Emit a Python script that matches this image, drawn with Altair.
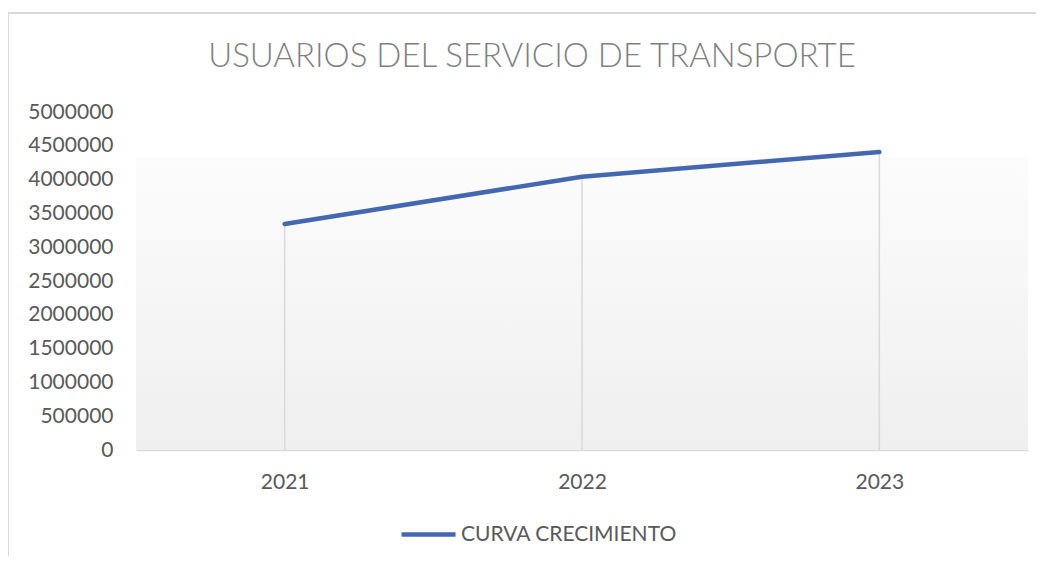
import altair as alt
import pandas as pd

years = ["2021", "2022", "2023"]
usuarios = [3343000, 4043000, 4408000]
serie = ["CURVA CRECIMIENTO"] * 3
y_ticks = [0, 500000, 1000000, 1500000, 2000000, 2500000, 3000000, 3500000, 4000000, 4500000, 5000000]

df = pd.DataFrame({"year": years, "value": usuarios, "serie": serie})

FONT = "Lato"
TXT = "#595959"
W, H = 892, 338

xenc = alt.X("year:O", title=None,
             scale=alt.Scale(type="point", padding=0.5),
             axis=alt.Axis(labelAngle=0, ticks=False, domainColor="#d9d9d9", domainWidth=1.5,
                           labelPadding=21, labelFontSize=21, labelColor=TXT, labelFont=FONT, grid=False))
yenc = alt.Y("value:Q", title=None,
             scale=alt.Scale(domain=[0, 5000000], nice=False),
             axis=alt.Axis(values=y_ticks, format="d", domain=False, ticks=False, grid=False,
                           labelPadding=23, labelFontSize=21, labelColor=TXT, labelFont=FONT))

grad = alt.LinearGradient(gradient="linear", x1=0, x2=0, y1=0, y2=1,
                          stops=[alt.GradientStop(offset=0, color="#fcfcfc"),
                                 alt.GradientStop(offset=1, color="#efefef")])

plot_bg = alt.Chart(df).mark_rect(fill=grad, strokeWidth=0).encode(
    x=alt.value(0), x2=alt.value(W), y=alt.value(45), y2=alt.value(H)
)

frame = alt.Chart(df).mark_rect(fill="transparent", stroke="#d9d9d9", strokeWidth=1.5, clip=False).encode(
    x=alt.value(-128), x2=alt.value(1000), y=alt.value(-99), y2=alt.value(600)
)

drops = alt.Chart(df).mark_rule(color="#d9d9d9", strokeWidth=1.5).encode(
    x=xenc, y=yenc, y2=alt.datum(0)
)

line = alt.Chart(df).mark_line(strokeWidth=4.5, strokeCap="round", color="#4468B0").encode(
    x=xenc, y=yenc,
    color=alt.Color("serie:N", title=None,
                    scale=alt.Scale(range=["#4468B0"]),
                    legend=alt.Legend(orient="none", legendX=263, legendY=393, symbolType="stroke",
                                      symbolSize=2916, symbolStrokeWidth=4.5, labelFontSize=21,
                                      labelColor=TXT, labelFont=FONT, padding=0, labelOffset=3,
                                      labelLimit=500))
)

chart = alt.layer(frame, plot_bg, drops, line).properties(
    width=W, height=H,
    background="white",
    autosize=alt.AutoSizeParams(type="none"),
    padding={"left": 128, "top": 104, "right": 8, "bottom": 106},
    title=alt.TitleParams("USUARIOS DEL SERVICIO DE TRANSPORTE", fontSize=33, font=FONT,
                          fontWeight=300, color="#7f7f7f", dx=-50, dy=62, offset=0,
                          anchor="middle"),
).configure_view(strokeWidth=0, stroke="transparent")

chart.save("out.html", embed_options={"renderer": "svg", "actions": False})
